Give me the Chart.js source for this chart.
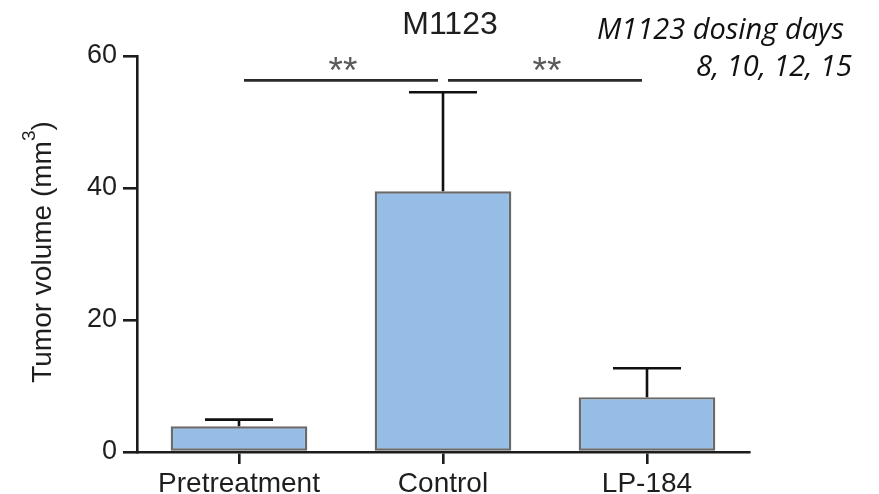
<!DOCTYPE html>
<html>
<head>
<meta charset="utf-8">
<script src="https://cdn.jsdelivr.net/npm/chart.js@4"></script>
<style>
  html, body { margin: 0; padding: 0; background: #fff; }
  #wrap { width: 879px; height: 494px; position: relative; }
</style>
</head>
<body>
<div id="wrap"><canvas id="c" width="879" height="494"></canvas></div>
<script>
// ---- data ----
const categories = ['Pretreatment', 'Control', 'LP-184'];
const meanVolume = [3.9, 39.5, 8.3];
const errorUpper = [4.9, 54.5, 12.7];
const yTicks = [0, 20, 40, 60];
const comparisonPairs = [[0, 1], [1, 2]];
const comparisonLabels = ['**', '**'];
const comparisonLevel = 56.3;
const chartTitle = 'M1123';
const noteLines = ['M1123 dosing days', '8, 10, 12, 15'];
const yAxisTitle = ['Tumor volume (mm', '3', ')'];

const SANS = '"Liberation Sans", Arial, Helvetica, sans-serif';
const AXIS = '#1c1c1c';

const extrasPlugin = {
  id: 'extras',
  afterDatasetsDraw(chart) {
    const ctx = chart.ctx;
    const x = chart.scales.x, y = chart.scales.y;
    const meta = chart.getDatasetMeta(0);
    ctx.save();
    // error bars (upper only)
    ctx.strokeStyle = '#111';
    ctx.lineWidth = 2.6;
    meta.data.forEach((bar, i) => {
      const top = y.getPixelForValue(errorUpper[i]);
      const base = y.getPixelForValue(meanVolume[i]);
      ctx.beginPath();
      ctx.moveTo(bar.x, base);
      ctx.lineTo(bar.x, top);
      ctx.moveTo(bar.x - 34, top);
      ctx.lineTo(bar.x + 34, top);
      ctx.stroke();
    });
    // significance lines
    const ly = y.getPixelForValue(comparisonLevel);
    comparisonPairs.forEach((p, k) => {
      const x1 = x.getPixelForValue(p[0]) + 5;
      const x2 = x.getPixelForValue(p[1]) - 5;
      ctx.strokeStyle = '#2a2a2a';
      ctx.lineWidth = 2.6;
      ctx.beginPath();
      ctx.moveTo(x1, ly);
      ctx.lineTo(x2, ly);
      ctx.stroke();
      ctx.fillStyle = '#5a5a5a';
      ctx.font = '37px ' + SANS;
      ctx.textAlign = 'center';
      ctx.textBaseline = 'alphabetic';
      ctx.fillText(comparisonLabels[k], (x1 + x2) / 2 + 2, ly + 3);
    });
    ctx.restore();
  },
  afterDraw(chart) {
    const ctx = chart.ctx;
    const a = chart.chartArea;
    ctx.save();
    // title
    ctx.fillStyle = '#1e1e1e';
    ctx.font = '32px ' + SANS;
    ctx.textAlign = 'center';
    ctx.textBaseline = 'alphabetic';
    ctx.fillText(chartTitle, 450, 34);
    // note
    ctx.fillStyle = '#111';
    ctx.font = 'italic 29px "Open Sans", "Noto Sans", sans-serif';
    ctx.textAlign = 'left';
    ctx.fillText(noteLines[0], 597, 39);
    ctx.textAlign = 'right';
    ctx.fillText(noteLines[1], 852, 76);
    // y axis title with superscript
    ctx.translate(51, (a.top + a.bottom) / 2 - 2);
    ctx.rotate(-Math.PI / 2);
    ctx.font = '28px ' + SANS;
    const w0 = ctx.measureText(yAxisTitle[0]).width;
    ctx.font = '19px ' + SANS;
    const w1 = ctx.measureText(yAxisTitle[1]).width;
    ctx.font = '28px ' + SANS;
    const w2 = ctx.measureText(yAxisTitle[2]).width;
    let sx = -(w0 + w1 + w2) / 2;
    ctx.fillStyle = '#1e1e1e';
    ctx.textAlign = 'left';
    ctx.fillText(yAxisTitle[0], sx, 0);
    ctx.font = '19px ' + SANS;
    ctx.fillText(yAxisTitle[1], sx + w0, -16);
    ctx.font = '28px ' + SANS;
    ctx.fillText(yAxisTitle[2], sx + w0 + w1, 0);
    ctx.restore();
  }
};

new Chart(document.getElementById('c'), {
  type: 'bar',
  data: {
    labels: categories,
    datasets: [{
      data: meanVolume,
      backgroundColor: '#95bde5',
      borderColor: '#6a6a6a',
      borderWidth: 2.4,
      borderSkipped: false,
      barPercentage: 0.67,
      categoryPercentage: 1
    }]
  },
  options: {
    responsive: false,
    devicePixelRatio: 1,
    animation: false,
    layout: { padding: { top: 56, right: 130, bottom: 0, left: 0 } },
    plugins: { legend: { display: false }, tooltip: { enabled: false }, title: { display: false } },
    scales: {
      x: {
        offset: true,
        grid: { offset: false, drawOnChartArea: false, drawTicks: true, tickLength: 12, lineWidth: 2.6, color: AXIS },
        border: { display: true, color: AXIS, width: 2.6 },
        ticks: { color: '#1e1e1e', font: { size: 28, family: SANS }, padding: 3, maxRotation: 0 },
        afterFit(s) { s.height = 42; }
      },
      y: {
        min: 0, max: 60,
        afterBuildTicks(s) { s.ticks = yTicks.map(v => ({ value: v })); },
        grid: { drawOnChartArea: false, drawTicks: true, tickLength: 14, lineWidth: 2.6, color: AXIS },
        border: { display: true, color: AXIS, width: 2.6 },
        ticks: { color: '#1e1e1e', font: { size: 27, family: SANS }, padding: 6 },
        afterFit(s) { s.width = 137; }
      }
    }
  },
  plugins: [extrasPlugin]
});
</script>
</body>
</html>
